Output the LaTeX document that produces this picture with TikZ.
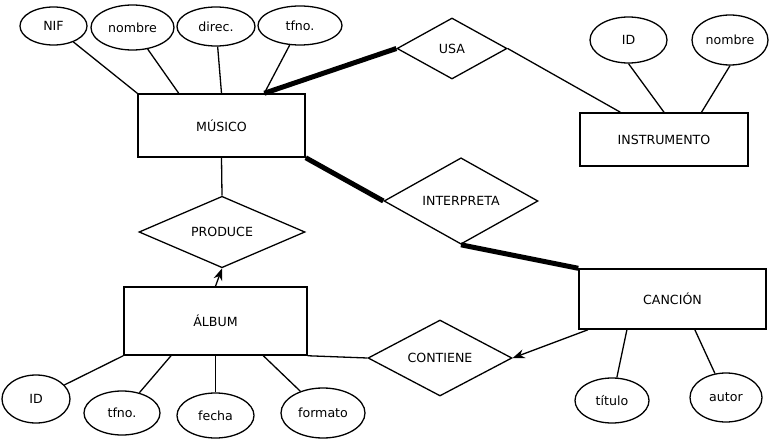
\documentclass[tikz,border=0pt]{standalone}
\usepackage{fontspec}
\setmainfont{DejaVu Sans}
\usetikzlibrary{shapes.geometric,arrows.meta}
\tikzset{
  entidad/.style={draw,line width=1.5pt,inner sep=0pt},
  atributo/.style={draw,ellipse,line width=1.3pt,inner sep=0pt},
  relacion/.style={draw,diamond,line width=1.3pt,inner sep=0pt},
  enlace/.style={line width=1.3pt},
  total/.style={line width=5pt},
  flecha/.style={line width=1.3pt,-{Stealth[length=12pt,width=9pt]}}
}

\begin{document}
\begin{tikzpicture}[x=1pt,y=-1pt,font=\fontsize{12.6}{15}\selectfont]
    \useasboundingbox (0,0) rectangle (776,441);
    % entidades
    \foreach \x/\y/\w/\h/\name/\txt in {221.5/125.5/167/63/musico/MÚSICO,
      664/139.5/168/53/instrumento/INSTRUMENTO,
      215.5/321/183/68/album/ÁLBUM,
      672.5/299/187/60/cancion/CANCIÓN} {
     \node[entidad,minimum width=\w pt,minimum height=\h pt] (\name) at (\x,\y) {\txt};
    }
    % relaciones
    \foreach \x/\y/\w/\h/\name/\txt in {452/48.5/110/61/usa/USA,
      222/232/166/61/produce/PRODUCE,
      461/201/154/82/interpreta/INTERPRETA,
      440/358/144/76/contiene/CONTIENE} {
     \node[relacion,minimum width=\w pt,minimum height=\h pt] (\name) at (\x,\y) {\txt};
    }
    % atributos
    \foreach \x/\y/\w/\h/\name/\txt in {53.5/26/67/38/nif/NIF,
      132.5/27.5/83/45/nombreM/nombre,
      216/26.5/78/39/direc/direc.,
      300/25.5/84/39/tfnoM/tfno.,
      628.5/40/77/46/idI/ID,
      730/40/76/50/nombreI/nombre,
      36/399/68/48/idA/ID,
      122/413/76/44/tfnoA/tfno.,
      215.5/415.5/77/45/fecha/fecha,
      323/413/84/50/formato/formato,
      612/400.5/74/45/titulo/título,
      726/397.5/72/49/autor/autor} {
     \node[atributo,minimum width=\w pt,minimum height=\h pt] (\name) at (\x,\y) {\txt};
    }
    \foreach \a/\b in {nif/musico.north west,nombreM/musico.143,direc/musico.north,
      tfnoM/musico.37,idI.south/instrumento.north,nombreI.south/instrumento.36,
      usa.east/instrumento.148,musico.south/produce.north,
      idA/album.south west,tfnoA/album.218,fecha.north/album.south,formato/album.-36,
      album.south east/contiene.west,titulo/cancion.214,autor/cancion.-54} {
     \draw[enlace] (\a) -- (\b);
    }
    \draw[total] (musico.37) -- (usa.west);
    \draw[total] (musico.south east) -- (interpreta.west);
    \draw[total] (interpreta.south) -- (cancion.north west);
    \draw[flecha] (album.north) -- (produce.south);
    \draw[flecha] (cancion.200) -- (contiene.east);
   \end{tikzpicture}
\end{document}
